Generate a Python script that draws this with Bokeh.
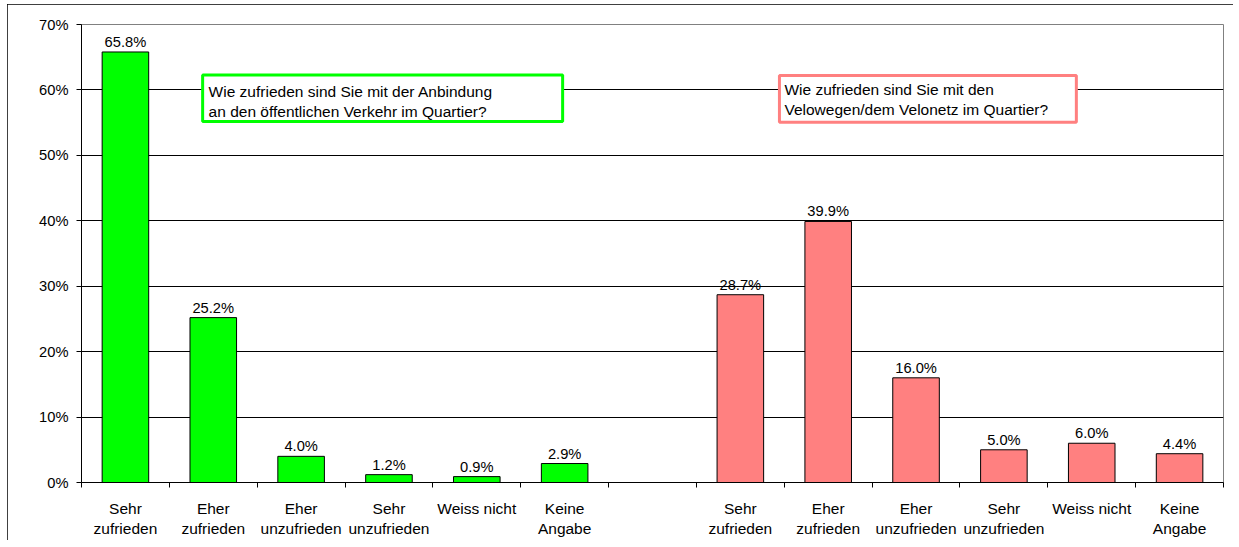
from bokeh.plotting import figure
from bokeh.models import Range1d, FixedTicker, BoxAnnotation, Label, ColumnDataSource
from bokeh.embed import file_html
from bokeh.resources import INLINE
import numpy as np

# ---- data ----
categories = ["Sehr\nzufrieden", "Eher\nzufrieden", "Eher\nunzufrieden",
              "Sehr\nunzufrieden", "Weiss nicht", "Keine\nAngabe"]
oev_values = [65.8, 25.2, 4.0, 1.2, 0.9, 2.9]
velo_values = [28.7, 39.9, 16.0, 5.0, 6.0, 4.4]
y_ticks = [0, 10, 20, 30, 40, 50, 60, 70]
y_tick_labels = ["0%", "10%", "20%", "30%", "40%", "50%", "60%", "70%"]
oev_title = ["Wie zufrieden sind Sie mit der Anbindung",
             "an den öffentlichen Verkehr im Quartier?"]
velo_title = ["Wie zufrieden sind Sie mit den",
              "Velowegen/dem Velonetz im Quartier?"]

FONT = "Liberation Sans"
FS_VAL = "14.7px"
FS_CAT = "15.5px"
GREEN = "#00FF00"
RED = "#FF8080"

n = len(categories)
n_slots = 2 * n + 1
x_green = np.arange(n) + 0.5
x_red = np.arange(n) + n + 1 + 0.5

p = figure(width=1226, height=536, output_backend="svg", toolbar_location=None,
           x_range=Range1d(0, n_slots), y_range=Range1d(0, 70),
           min_border_left=74, min_border_right=10, min_border_top=20,
           min_border_bottom=58)
p.styles = {"outline": "1px solid black", "outline-offset": "-1px",
            "margin-left": "7px", "margin-top": "4px"}
p.background_fill_color = "white"
p.border_fill_color = "white"
p.outline_line_color = "#808080"
p.outline_line_width = 1

# grid
p.xgrid.visible = False
p.ygrid.ticker = FixedTicker(ticks=y_ticks)
p.ygrid.grid_line_color = "black"
p.ygrid.grid_line_width = 1

# y axis
p.yaxis.ticker = FixedTicker(ticks=y_ticks)
p.yaxis.major_label_overrides = {t: l for t, l in zip(y_ticks, y_tick_labels)}
p.yaxis.major_tick_out = 5
p.yaxis.major_tick_in = 0
p.yaxis.minor_tick_line_color = None
p.yaxis.axis_line_color = "black"
p.yaxis.major_tick_line_color = "black"
p.yaxis.major_label_text_font = FONT
p.yaxis.major_label_text_font_size = FS_VAL
p.yaxis.major_label_text_color = "black"
p.yaxis.major_label_standoff = 8

# x axis: labels at slot centres, tick marks at slot boundaries (minor ticks)
centers = list(x_green) + list(x_red)
p.xaxis.ticker = FixedTicker(ticks=centers, minor_ticks=list(range(n_slots + 1)))
p.xaxis.major_label_overrides = {float(c): lab for c, lab in zip(centers, categories + categories)}
p.xaxis.major_tick_out = 0
p.xaxis.major_tick_in = 0
p.xaxis.minor_tick_out = 5
p.xaxis.minor_tick_in = 0
p.xaxis.minor_tick_line_color = "black"
p.xaxis.axis_line_color = "black"
p.xaxis.major_label_text_font = FONT
p.xaxis.major_label_text_font_size = FS_CAT
p.xaxis.major_label_text_color = "black"
p.xaxis.major_label_standoff = 12

# bars
src_g = ColumnDataSource(dict(x=x_green, top=oev_values,
                              lab=[f"{v:.1f}%" for v in oev_values]))
src_r = ColumnDataSource(dict(x=x_red, top=velo_values,
                              lab=[f"{v:.1f}%" for v in velo_values]))
for src, col in ((src_g, GREEN), (src_r, RED)):
    p.vbar(x="x", top="top", bottom=0, width=0.53, source=src,
           fill_color=col, line_color="black", line_width=1)
    p.text(x="x", y="top", text="lab", source=src, text_align="center",
           text_baseline="bottom", text_font_size=FS_VAL, text_color="black",
           text_font={"value": FONT}, y_offset=-2)

# question boxes
p.add_layout(BoxAnnotation(left=1.379, right=5.477, top=62.3, bottom=55.16,
                           fill_color="white", fill_alpha=1,
                           line_color=GREEN, line_width=3, line_alpha=1))
p.add_layout(BoxAnnotation(left=7.945, right=11.325, top=62.19, bottom=55.05,
                           fill_color="white", fill_alpha=1,
                           line_color=RED, line_width=3, line_alpha=1))
for txt, xx, yy in ((oev_title[0], 1.447, 59.8), (oev_title[1], 1.447, 56.75),
                    (velo_title[0], 8.002, 60.0), (velo_title[1], 8.002, 56.95)):
    p.add_layout(Label(x=xx, y=yy, text=txt, text_align="left",
                       text_baseline="middle", text_font=FONT,
                       text_font_size=FS_CAT, text_color="black"))

open("out.html", "w").write(file_html(p, INLINE))
